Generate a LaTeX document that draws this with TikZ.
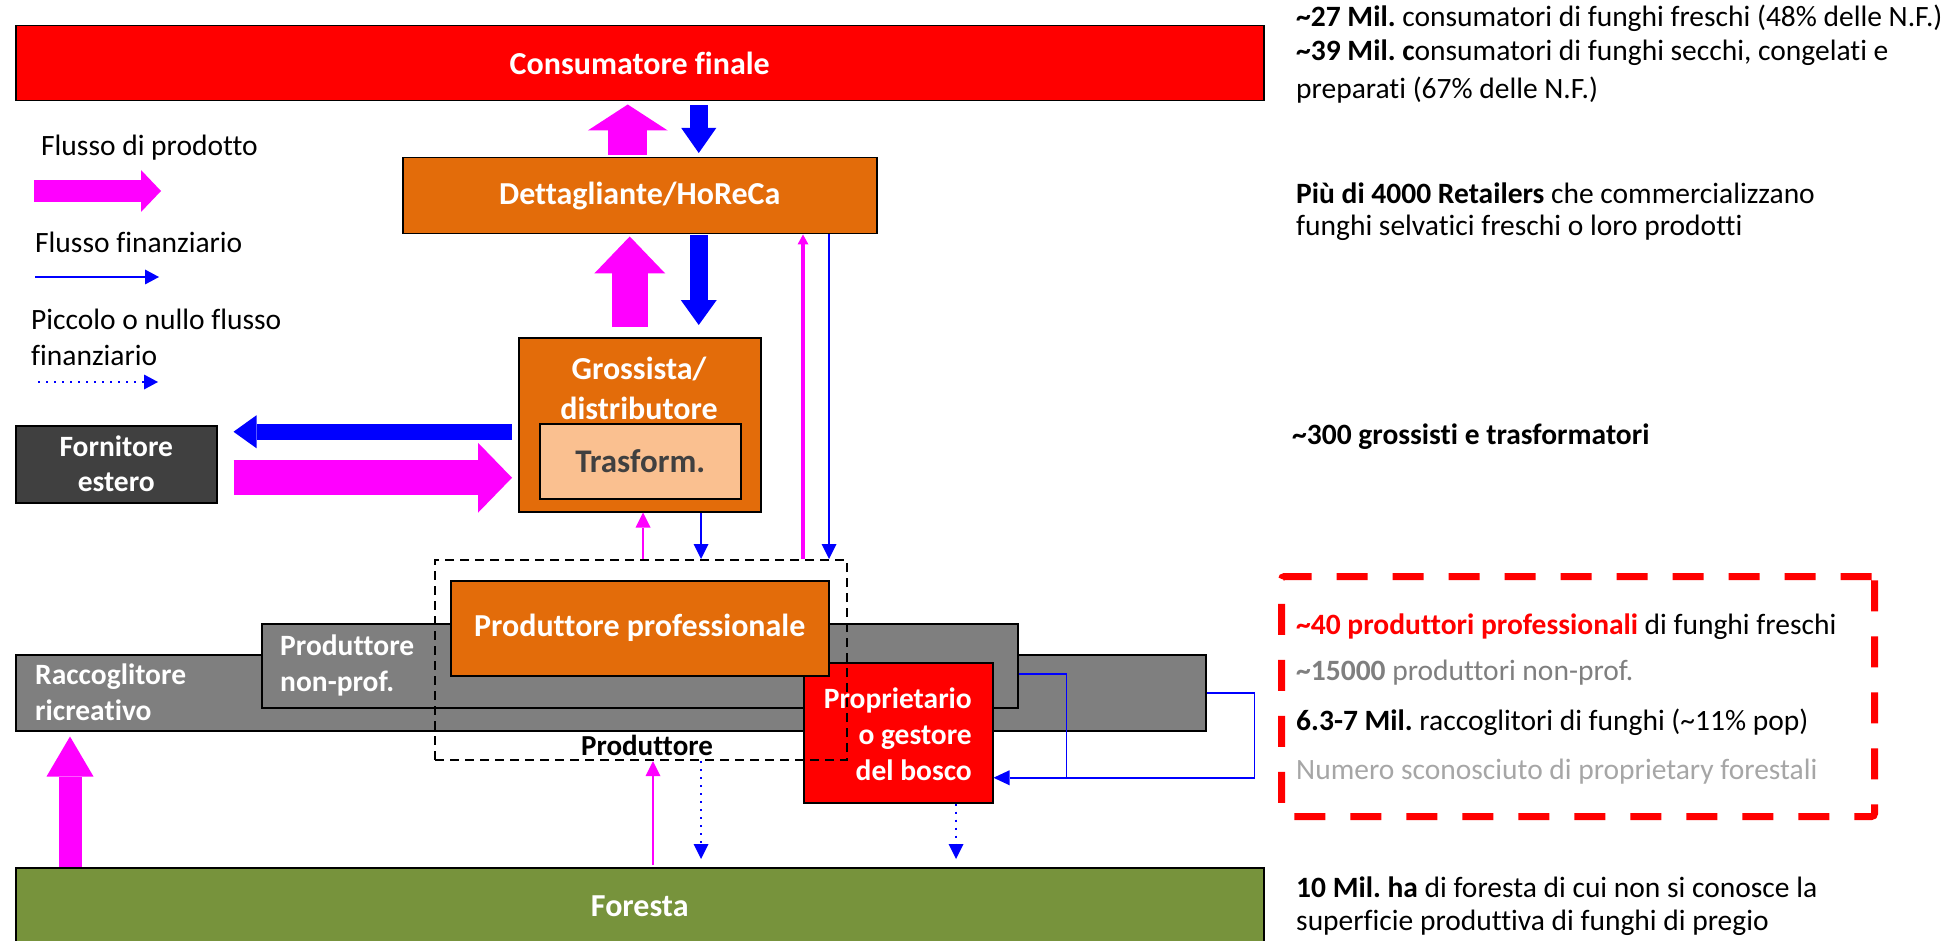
\documentclass[tikz,border=0pt]{standalone}
\usepackage{fontspec}
\setmainfont{Carlito}[Ligatures=NoCommon]
\usetikzlibrary{arrows.meta}
\frenchspacing
\definecolor{cred}{HTML}{FF0000}
\definecolor{corange}{HTML}{E36C0A}
\definecolor{cpeach}{HTML}{FAC090}
\definecolor{cdark}{HTML}{404040}
\definecolor{cgray}{HTML}{7F7F7F}
\definecolor{cgreen}{HTML}{77933C}
\definecolor{cmag}{HTML}{FF00FF}
\definecolor{cblue}{HTML}{0000FF}
\definecolor{clight}{HTML}{A6A6A6}
\tikzset{
 box/.style={draw=black, line width=1.5pt, inner sep=0pt, anchor=north west, text=white, align=center, font=\bfseries\fontsize{32}{40}\selectfont},
 lblbig/.style={text=white, font=\bfseries\fontsize{32}{40}\selectfont, inner sep=0pt},
 lbl/.style={text=white, font=\bfseries\fontsize{29.5}{36}\selectfont, inner sep=0pt},
 txt/.style={font=\fontsize{29.5}{36}\selectfont, inner sep=0pt, anchor=west},
 blk/.style n args={4}{draw=#1, line width=#2, line cap=butt, -{Triangle[length=#4, width=#3, line width=0pt]}},
 thinm/.style={draw=cmag, line width=2.5pt, -{Triangle[length=15pt, width=15pt, line width=0pt]}},
 thinb/.style={draw=cblue, line width=1.8pt, -{Triangle[length=15pt, width=15pt, line width=0pt]}},
 dotb/.style={thinb, dash pattern=on 2pt off 6pt},
}
\begin{document}
\begin{tikzpicture}[x=1pt,y=-1pt]
\useasboundingbox (0,0) rectangle (1959,941);
% column coordinates
\coordinate (c643) at (643,0);
\coordinate (c653) at (653,0);
\coordinate (c701) at (701,0);
\coordinate (c803) at (803,0);
\coordinate (c829) at (829,0);
\coordinate (c956) at (956,0);

% boxes
\node[box, fill=cred, minimum width=1248pt, minimum height=75pt] (cons) at (15,25) {Consumatore finale};
\node[box, fill=corange, minimum width=474pt, minimum height=76pt] (det) at (402,157) {Dettagliante/HoReCa};
\node[box, fill=corange, minimum width=242pt, minimum height=174pt] (gros) at (518,337) {};
\node[lblbig, align=center] (groslbl) at (639,388) {Grossista/\\distributore};
\node[box, fill=cpeach, text=cdark, minimum width=201pt, minimum height=75pt, font=\bfseries\fontsize{33}{40}\selectfont] (tras) at (539,423) {Trasform.};
\node[box, fill=cdark, minimum width=201pt, minimum height=77pt, font=\bfseries\fontsize{29.5}{35}\selectfont] (forn) at (15,425) {Fornitore\\estero};
\node[box, fill=cgray, minimum width=1190pt, minimum height=76pt] (racc) at (15,654) {};
\node[lbl, align=left, anchor=west] (racclbl) at (35,692) {Raccoglitore\\ricreativo};
\node[box, fill=cgray, minimum width=756pt, minimum height=84pt] (nonprof) at (261,623) {};
\node[lbl, align=left, anchor=west] (nplbl) at (280,665) {Produttore\\non-prof.};
\node[box, fill=cred, minimum width=189pt, minimum height=140pt] (prop) at (803,662) {};
\node[lbl, align=right, anchor=east] (proplbl) at (972,734) {Proprietario\\o gestore\\del bosco};
\node[box, fill=corange, minimum width=378pt, minimum height=95pt] (prof) at (450,580) {Produttore professionale};
\node[draw=black, line width=2.2pt, dash pattern=on 9pt off 6pt, inner sep=0pt, anchor=north west, minimum width=412pt, minimum height=200pt] (prodgrp) at (434,559) {};
\node[font=\bfseries\fontsize{29}{36}\selectfont, inner sep=0pt] (prodlbl) at (647,745) {Produttore};
\node[box, fill=cgreen, minimum width=1248pt, minimum height=77pt] (fore) at (15,867) {Foresta};

% block arrows
\draw[blk={cmag}{39pt}{80pt}{26pt}] ([xshift=-12pt,yshift=2pt]det.north) -- ([xshift=-12pt,yshift=-3pt]cons.south);
\draw[blk={cblue}{18pt}{35pt}{25pt}] ([xshift=59pt,yshift=-4pt]cons.south) -- ([xshift=59pt,yshift=4pt]det.north);
\draw[blk={cmag}{36pt}{71pt}{37pt}] ([xshift=-10pt,yshift=10pt]gros.north) -- ([xshift=-10pt,yshift=-2pt]det.south);
\draw[blk={cblue}{18pt}{36pt}{25pt}] ([xshift=59pt,yshift=-1pt]det.south) -- ([xshift=59pt,yshift=12pt]gros.north);
\draw[blk={cblue}{16pt}{33pt}{23pt}] ([shift={(-6,7)}]gros.west) -- ([shift={(16,-32.5)}]forn.east);
\draw[blk={cmag}{35pt}{70pt}{34pt}] ([shift={(16,13.5)}]forn.east) -- ([shift={(-6,53)}]gros.west);
\draw[blk={cmag}{23pt}{47pt}{40pt}] ([shift={(55,0)}]fore.north west) -- ([shift={(55,5)}]racc.south west);

% thin connectors
\draw[thinm, line width=4pt, -{Triangle[length=10pt, width=11pt, line width=0pt]}] (prodgrp.north -| c803) -- (det.south -| c803);
\draw[thinb, line width=1.5pt] (det.south -| c829) -- (prodgrp.north -| c829);
\draw[thinm] (prodgrp.north -| c643) -- (gros.south -| c643);
\draw[thinb] (gros.south -| c701) -- (prodgrp.north -| c701);
\draw[thinm] ([yshift=2pt]fore.north -| c653) -- (prodgrp.south -| c653);
\draw[dotb, shorten >=8pt] (prodgrp.south -| c701) -- (fore.north -| c701);
\draw[dotb, shorten >=8pt] (prop.south -| c956) -- (fore.north -| c956);
\draw[draw=cblue, line width=1.8pt] (racc.east) -- ++(48,0) -- ++(0,85) -- ++(-188,0);
\draw[thinb, -{Triangle[length=16pt, width=15pt, line width=0pt]}] ([yshift=-8pt]nonprof.east) -- ++(48,0) -- ++(0,104) -- ([yshift=-45pt]prop.east);

% legend
\node[txt] (lg1) at (41,148) {Flusso di prodotto};
\coordinate (lg1a) at (34,191);
\coordinate (lg1b) at (161,191);
\draw[blk={cmag}{22pt}{42pt}{20pt}] (lg1a) -- (lg1b);
\node[txt] (lg2) at (35,242) {Flusso finanziario};
\coordinate (lg2a) at (35,277);
\coordinate (lg2b) at (159,277);
\draw[thinb, -{Triangle[length=14pt, width=15pt, line width=0pt]}] (lg2a) -- (lg2b);
\node[txt, align=left] (lg3) at (31,337) {Piccolo o nullo flusso\\finanziario};
\coordinate (lg3a) at (38,382);
\coordinate (lg3b) at (158,382);
\draw[dotb, -{Triangle[length=14pt, width=15pt, line width=0pt]}] (lg3a) -- (lg3b);

% right texts
\node[txt] (r1) at (1296,18) {\textbf{\textasciitilde27 Mil.} consumatori di funghi freschi (48\% delle N.F.)};
\node[txt] (r2) at (1296,53) {\textbf{\textasciitilde39 Mil. c}onsumatori di funghi secchi, congelati e};
\node[txt] (r3) at (1296,90) {preparati (67\% delle N.F.)};
\node[txt] (r4) at (1296,193) {\textbf{Più di 4000 Retailers} che commercializzano};
\node[txt] (r5) at (1296,228) {funghi selvatici freschi o loro prodotti};
\node[txt] (r6) at (1292,437) {\textbf{\textasciitilde300 grossisti e trasformatori}};
\node[draw=cred, line width=7pt, dash pattern=on 31pt off 25pt, rounded corners=3pt, inner sep=0pt, anchor=north west, minimum width=593pt, minimum height=240pt] (statbox) at (1278,573) {};
\node[txt] (r7) at (1296,627) {\textcolor{cred}{\textbf{\textasciitilde40 produttori professionali}} di funghi freschi};
\node[txt, text=cgray] (r8) at (1296,673) {\textbf{\textasciitilde15000} produttori non-prof.};
\node[txt] (r9) at (1296,722) {\textbf{6.3-7 Mil.} raccoglitori di funghi (\textasciitilde11\% pop)};
\node[txt, text=clight] (r10) at (1296,772) {Numero sconosciuto di proprietary forestali};
\node[txt] (r11) at (1296,887) {\textbf{10 Mil. ha} di foresta di cui non si conosce la};
\node[txt] (r12) at (1296,923) {superficie produttiva di funghi di pregio};
\end{tikzpicture}
\end{document}
